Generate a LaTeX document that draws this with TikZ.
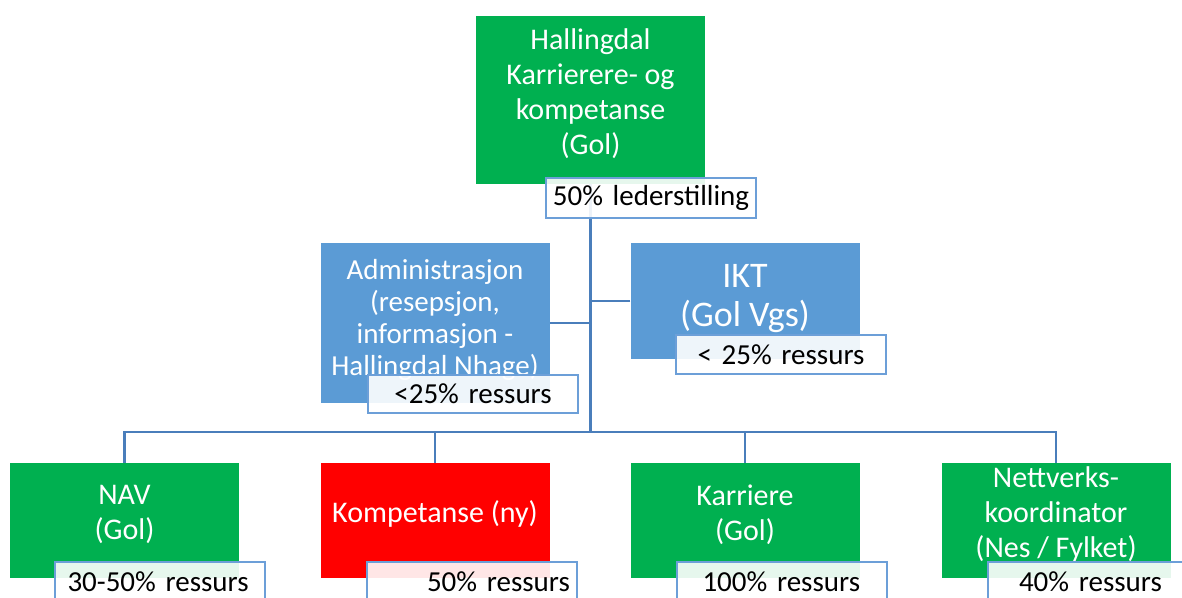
\documentclass[tikz,border=0pt]{standalone}
\usepackage{fontspec}
\setmainfont{Carlito}
\usetikzlibrary{backgrounds}
\definecolor{unitgreen}{HTML}{00B050}
\definecolor{unitblue}{HTML}{5B9BD5}
\definecolor{unitred}{HTML}{FF0000}
\definecolor{tagblue}{HTML}{6C9FD8}
\definecolor{linkblue}{HTML}{4A7EBB}
\tikzset{
  unit/.style={minimum width=229, inner sep=0, text=white, align=center, text depth=16,
    font=\fontsize{30}{35}\selectfont},
  tag/.style={draw=tagblue, line width=2, fill=white, fill opacity=0.9, text opacity=1,
    minimum width=210, minimum height=40, inner sep=0, text width=206, align=center,
    font=\fontsize{29}{33}\selectfont},
  link/.style={draw=linkblue, line width=2.5}
}
\begin{document}
\begin{tikzpicture}[x=1pt, y=-1pt]
  \useasboundingbox (0,0) rectangle (1182,597);
  \clip (0,0) rectangle (1182,597);
  \node[unit, fill=unitgreen, minimum height=168] (top) at (590.5,100) {Hallingdal\\Karrierere- og\\kompetanse\\(Gol)};
  \node[tag] (topTag) at (651,198) {50\% lederstilling};

  \node[unit, fill=unitblue, minimum height=160, text depth=12, font=\fontsize{29}{32}\selectfont] (adm) at (435,323) {Administrasjon\\(resepsjon,\\informasjon -\\Hallingdal Nhage)};
  \node[tag, minimum height=38] (admTag) at (473,394) {<25\% ressurs};
  \node[unit, fill=unitblue, minimum height=116, text depth=11, font=\fontsize{36}{39}\selectfont] (ikt) at (745,301) {IKT\\(Gol Vgs)};
  \node[tag, minimum height=39] (iktTag) at (781,354.5) {< 25\% ressurs};

  \node[unit, fill=unitgreen, minimum height=115] (nav) at (124.5,520.5) {NAV\\(Gol)};
  \node[unit, fill=unitred, minimum height=115, text depth=18] (komp) at (435,520.5) {Kompetanse (ny)};
  \node[unit, fill=unitgreen, minimum height=115] (karr) at (745,520.5) {Karriere\\(Gol)};
  \node[unit, fill=unitgreen, minimum height=115] (nett) at (1056,520.5) {Nettverks-\\koordinator\\(Nes / Fylket)};
  \node[tag, align=left] (navTag) at (159.5,582) {\hspace*{11pt}30-50\% ressurs};
  \node[tag, align=left] (kompTag) at (472,582) {\hspace*{58pt}50\% ressurs};
  \node[tag, align=left] (karrTag) at (781.5,582) {\hspace*{24pt}100\% ressurs};
  \node[tag, align=left] (nettTag) at (1093,582) {\hspace*{29pt}40\% ressurs};

  \begin{scope}[on background layer]
    \fill[white] (0,0) rectangle (1182,597);
    \coordinate (bus) at (590.5,432);
    \draw[link] (top.south) -- (bus);
    \draw[link] (adm.east) -- (adm.east -| bus);
    \draw[link] (ikt.west) -- (ikt.west -| bus);
    \draw[link] (nav.north) -- (nav.north |- bus) -- (nett.north |- bus) -- (nett.north);
    \draw[link] (komp.north) -- (komp.north |- bus);
    \draw[link] (karr.north) -- (karr.north |- bus);
  \end{scope}
\end{tikzpicture}
\end{document}
